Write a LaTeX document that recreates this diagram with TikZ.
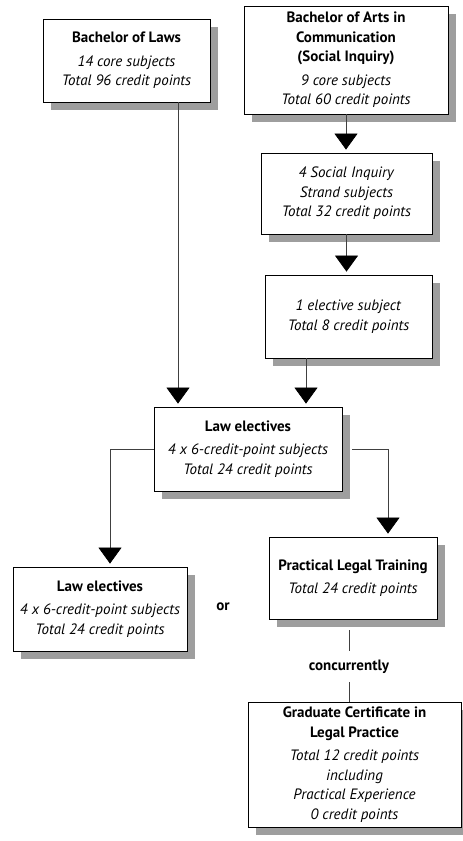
\documentclass[tikz,border=0pt]{standalone}
\usepackage{fontspec}
\setmainfont{PT Sans}
\usetikzlibrary{arrows.meta,shadows}
\begin{document}
\begin{tikzpicture}[x=1pt,y=-1pt,
  box/.style={draw=black,line width=0.8pt,fill=white,rectangle,align=center,inner sep=0pt,
    font=\fontsize{15}{19.5}\selectfont,
    drop shadow={shadow xshift=8pt,shadow yshift=-8pt,fill=black!38,opacity=1}},
  conn/.style={draw=black!75,line width=0.7pt},
  arr/.style={conn,-{Triangle[width=23pt,length=16pt,black]},shorten >=3pt},
  lbl/.style={font=\fontsize{15}{19.5}\selectfont\bfseries,inner sep=0pt}]
\fill[white] (0,0) rectangle (463,841);
\useasboundingbox (0,0) rectangle (463,841);

\node[box,minimum width=167pt,minimum height=83pt] (B1) at (126.5,60.5)
  {\textbf{Bachelor of Laws}\\[4pt]\textit{14 core subjects}\\\textit{Total 96 credit points}};
\node[box,minimum width=204pt,minimum height=108pt] (B2) at (346,60)
  {\textbf{Bachelor of Arts in}\\\textbf{Communication}\\\textbf{(Social Inquiry)}\\[4pt]\textit{9 core subjects}\\\textit{Total 60 credit points}};
\node[box,minimum width=171pt,minimum height=81pt] (B3) at (346.5,193.5)
  {\textit{4 Social Inquiry}\\\textit{Strand subjects}\\\textit{Total 32 credit points}};
\node[box,minimum width=167pt,minimum height=83pt] (B4) at (348.5,316.5)
  {\textit{1 elective subject}\\\textit{Total 8 credit points}};
\node[box,minimum width=188pt,minimum height=84pt] (B5) at (248,449)
  {\textbf{Law electives}\\[4pt]\textit{4 x 6-credit-point subjects}\\\textit{Total 24 credit points}};
\node[box,minimum width=174pt,minimum height=84pt] (B6) at (100,609)
  {\textbf{Law electives}\\[4pt]\textit{4 x 6-credit-point subjects}\\\textit{Total 24 credit points}};
\node[box,minimum width=168pt,minimum height=82pt] (B7) at (353,578)
  {\textbf{Practical Legal Training}\\[4pt]\textit{Total 24 credit points}};
\node[box,minimum width=213pt,minimum height=125pt] (B8) at (354.5,764.5)
  {\textbf{Graduate Certificate in}\\\textbf{Legal Practice}\\[4pt]\textit{Total 12 credit points}\\\textit{including}\\\textit{Practical Experience}\\\textit{0 credit points}};

\node[lbl] (OR) at (223,607) {or};
\node[lbl] (CC) at (349,667) {concurrently};

\coordinate (b1s) at ([xshift=51.5pt]B1.south);
\draw[arr] (b1s) -- (b1s |- B5.north);
\draw[arr] (B2.south) -- (B2.south |- B3.north);
\draw[arr] (B3.south) -- (B3.south |- B4.north);
\coordinate (b4s) at ([xshift=-42.5pt]B4.south);
\draw[arr] (b4s) -- (b4s |- B5.north);
\coordinate (b6n) at ([xshift=10pt]B6.north);
\draw[arr] (B5.west) -| (b6n);
\coordinate (b5e) at ([xshift=10pt]B5.east);
\coordinate (b7n) at ([xshift=35pt]B7.north);
\draw[arr] (b5e) -| (b7n);
\coordinate (b7s) at (349,630);
\coordinate (ccn) at (349,651);
\coordinate (ccs) at (349,682);
\draw[conn] (b7s) -- (ccn);
\draw[conn] (ccs) -- (ccs |- B8.north);
\end{tikzpicture}
\end{document}
